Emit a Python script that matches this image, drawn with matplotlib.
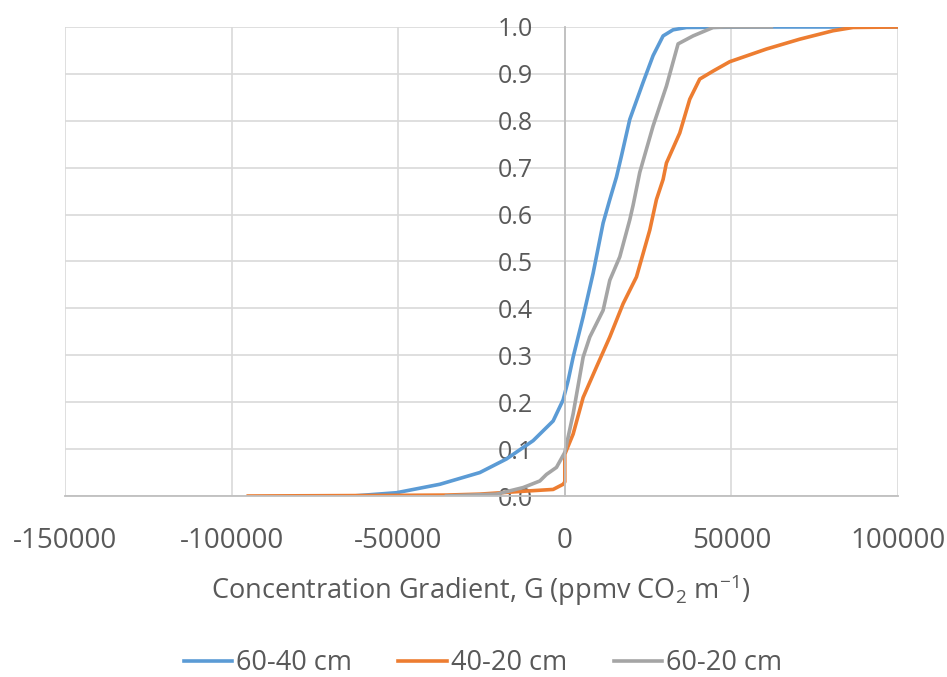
import matplotlib
matplotlib.use('Agg')
import matplotlib.pyplot as plt

plt.rcParams['font.family'] = ['Open Sans', 'DejaVu Sans']
plt.rcParams['mathtext.default'] = 'regular'
plt.rcParams['axes.unicode_minus'] = False

# 60-40 cm
blue_x = [-63600, -50500, -37500, -25500, -17500, -9500, -3500, -500, 1000, 2500, 5500, 8500,
          11500, 13500, 15500, 17000, 19500, 23500, 26500, 29500, 32500, 36500, 60000, 100000]
blue_y = [0.0, 0.007, 0.025, 0.05, 0.079, 0.118, 0.16, 0.205, 0.246, 0.296, 0.382, 0.475,
          0.582, 0.632, 0.68, 0.725, 0.803, 0.882, 0.939, 0.981, 0.994, 0.999, 1.0, 1.0]

# 40-20 cm
orange_x = [-95000, -60000, -35500, -25500, -10500, -3500, -500, 0, 0, 2500, 5500, 9500,
            13500, 17500, 21500, 25500, 27500, 29500, 30500, 34500, 37500, 40500, 44500,
            49500, 60500, 70500, 80500, 86500, 100000]
orange_y = [0.0, 0.001, 0.002, 0.004, 0.011, 0.014, 0.025, 0.03, 0.089, 0.132, 0.21, 0.275,
            0.339, 0.41, 0.467, 0.567, 0.632, 0.675, 0.71, 0.774, 0.846, 0.889, 0.906,
            0.926, 0.953, 0.974, 0.992, 0.999, 1.0]

# 60-20 cm
gray_x = [-35500, -20500, -12500, -7500, -5500, -2500, 0, 2500, 5500, 7500, 11500, 13500,
          16500, 19500, 20500, 22500, 26500, 30500, 34000, 38500, 44500, 48000, 62000]
gray_y = [0.0, 0.004, 0.018, 0.032, 0.046, 0.061, 0.093, 0.175, 0.296, 0.339, 0.396, 0.46,
          0.51, 0.589, 0.62, 0.69, 0.789, 0.874, 0.964, 0.981, 0.999, 1.0, 1.0]

x_ticks = [-150000, -100000, -50000, 0, 50000, 100000]
y_ticks = [0.0, 0.1, 0.2, 0.3, 0.4, 0.5, 0.6, 0.7, 0.8, 0.9, 1.0]

text_color = '#595959'

fig = plt.figure(figsize=(9.47, 6.77), dpi=100)
ax = fig.add_axes([65 / 947, 1 - 496 / 677, 833 / 947, 469 / 677])

ax.plot(blue_x, blue_y, color='#5B9BD5', lw=2.6, label='60-40 cm')
ax.plot(orange_x, orange_y, color='#ED7D31', lw=2.6, label='40-20 cm')
ax.plot(gray_x, gray_y, color='#A5A5A5', lw=2.6, label='60-20 cm')

ax.set_xlim(-150000, 100000)
ax.set_ylim(0, 1)
ax.set_xticks(x_ticks)
ax.set_yticks(y_ticks)
ax.set_yticklabels(['%.1f' % v for v in y_ticks])

# gridlines
ax.grid(True, color='#d9d9d9', lw=1.2)
ax.set_axisbelow(True)

# axis lines: vertical one sits at x = 0
for s in ['top', 'right']:
    ax.spines[s].set_visible(False)
ax.spines['left'].set_position(('data', 0))
ax.spines['left'].set_color('#bfbfbf')
ax.spines['bottom'].set_color('#bfbfbf')
ax.spines['left'].set_linewidth(1.3)
ax.spines['bottom'].set_linewidth(1.3)

ax.tick_params(axis='y', length=0, pad=23, labelsize=18, labelcolor=text_color)
ax.tick_params(axis='x', length=0, pad=22, labelsize=20, labelcolor=text_color)

fig.text(481 / 947, 1 - 590 / 677, 'Concentration Gradient, G (ppmv CO$_2$ m$^{-1}$)',
         ha='center', va='center', fontsize=19.5, color=text_color)

fig.legend(loc='center', bbox_to_anchor=(483 / 947, 1 - 663 / 677), ncol=3, frameon=False,
           fontsize=19.5, labelcolor=text_color, handlelength=1.8, handletextpad=0.15,
           columnspacing=1.7)

fig.savefig('out.png', dpi=100)
